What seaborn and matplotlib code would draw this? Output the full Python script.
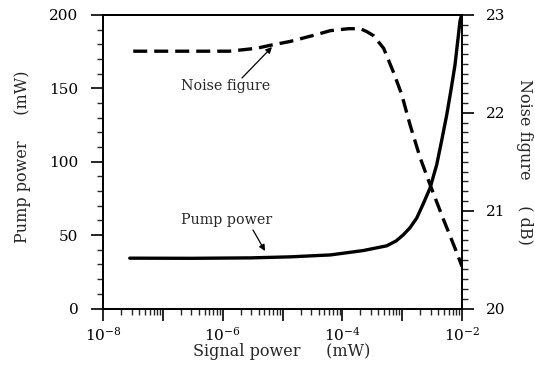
import numpy as np
import pandas as pd
import matplotlib
matplotlib.use("Agg")
import matplotlib.pyplot as plt
import matplotlib.ticker as mticker
import seaborn as sns

# ---- data ----
pump_signal_mw = [2.8e-8, 3e-7, 3e-6, 1.35e-5, 6.3e-5, 2.24e-4, 5.5e-4, 7.9e-4,
                  1.045e-3, 1.35e-3, 1.75e-3, 2.23e-3, 2.92e-3, 3.78e-3, 4.55e-3,
                  5.56e-3, 6.55e-3, 7.64e-3, 9.27e-3, 1.0e-2]
pump_power_mw = [34.3, 34.2, 34.5, 35.2, 36.5, 39.5, 42.7, 46.0,
                 50.2, 55.0, 61.6, 71.0, 82.0, 98.0, 114.0,
                 132.0, 149.0, 166.0, 196.0, 201.0]

nf_signal_mw = [3.2e-8, 3.2e-7, 1.3e-6, 3.7e-6, 6.2e-6, 1.35e-5, 3.7e-5, 6.3e-5,
                1.26e-4, 2.0e-4, 2.57e-4, 3.3e-4, 4.9e-4, 7.1e-4, 9.8e-4,
                1.35e-3, 2.0e-3, 2.95e-3, 4.9e-3, 7.6e-3, 1.0e-2]
noise_figure_db = [22.63, 22.63, 22.63, 22.66, 22.69, 22.73, 22.80, 22.84,
                   22.86, 22.86, 22.83, 22.79, 22.66, 22.42, 22.19,
                   21.88, 21.54, 21.26, 20.91, 20.62, 20.43]

x_tick_labels = ["$10^{-8}$", "$10^{-6}$", "$10^{-4}$", "$10^{-2}$"]
left_ticks = [0, 50, 100, 150, 200]
right_ticks = [20, 21, 22, 23]

sns.set_style("ticks")
plt.rcParams["font.family"] = ["DejaVu Serif"]
plt.rcParams["mathtext.fontset"] = "dejavuserif"

W, H = 535, 365
fig = plt.figure(figsize=(W / 100, H / 100), dpi=100)
L, R, T, B = 103, 462, 15, 308.5
ax = fig.add_axes([L / W, 1 - B / H, (R - L) / W, (B - T) / H])
ax2 = ax.twinx()

pump_df = pd.DataFrame({"signal": pump_signal_mw, "pump": pump_power_mw})
nf_df = pd.DataFrame({"signal": nf_signal_mw, "nf": noise_figure_db})

sns.lineplot(data=pump_df, x="signal", y="pump", ax=ax, color="black",
             linewidth=2.4, estimator=None, sort=True)
sns.lineplot(data=nf_df, x="signal", y="nf", ax=ax2, color="black",
             linewidth=2.4, estimator=None, sort=True)
ax2.lines[0].set_dashes((4.2, 2.1))

for a in (ax, ax2):
    a.set_xscale("log")
    a.set_xlim(1e-8, 1e-2)
    for s in a.spines.values():
        s.set_linewidth(1.3)
        s.set_color("black")
        s.set_visible(True)

ax.set_ylim(0, 200)
ax2.set_ylim(20, 23)

ax.xaxis.set_major_locator(mticker.LogLocator(base=10, numticks=20))
ax.xaxis.set_minor_locator(mticker.LogLocator(base=10, subs=np.arange(2, 10), numticks=20))
ax.xaxis.set_minor_formatter(mticker.NullFormatter())
lab_map = {-8: x_tick_labels[0], -6: x_tick_labels[1], -4: x_tick_labels[2], -2: x_tick_labels[3]}
ax.xaxis.set_major_formatter(mticker.FuncFormatter(
    lambda v, p: lab_map.get(int(round(np.log10(v))), "")))

ax.set_yticks(left_ticks)
ax.yaxis.set_minor_locator(mticker.MultipleLocator(10))
ax2.set_yticks(right_ticks)
ax2.yaxis.set_minor_locator(mticker.MultipleLocator(0.1))

for a in (ax, ax2):
    a.tick_params(which="major", length=8.6, width=1.2, direction="out",
                  labelsize=11, colors="black")
    a.tick_params(which="minor", length=4.5, width=1.0, direction="out")
ax.tick_params(axis="y", which="major", pad=9)
ax2.tick_params(axis="y", which="major", pad=8.5)
ax.tick_params(axis="x", which="major", pad=4)
ax2.tick_params(axis="x", which="both", bottom=False, top=False, labelbottom=False)

ax.set_xlabel("Signal power     (mW)", fontsize=11.5)
ax.xaxis.set_label_coords((282 - L) / (R - L), -(352 - B) / (B - T))
ax.set_ylabel("Pump power     (mW)", fontsize=11.5)
ax.yaxis.set_label_coords((23 - L) / (R - L), (B - 157) / (B - T))
ax2.set_ylabel("Noise figure     ( dB)", fontsize=11.5, rotation=270)
ax2.yaxis.set_label_coords((525 - L) / (R - L), (B - 162) / (B - T))
ax.xaxis.label.set_va("center")
ax.yaxis.label.set_va("center")
ax2.yaxis.label.set_va("center")


def px_to_x(px):
    return 10 ** (-8 + (px - L) / ((R - L) / 6))


# annotations (text + arrow)
fig.text(226 / W, 1 - 86 / H, "Noise figure", ha="center", va="center", fontsize=10.3)
ax2.annotate("", xy=(px_to_x(272), 20 + (B - 47) / ((B - T) / 3)),
             xytext=(242 / W, 1 - 78 / H), textcoords="figure fraction",
             arrowprops=dict(arrowstyle="-|>", color="black", lw=0.9,
                             mutation_scale=9, shrinkA=0, shrinkB=0))
fig.text(227 / W, 1 - 220 / H, "Pump power", ha="center", va="center", fontsize=10.3)
ax.annotate("", xy=(px_to_x(265), (B - 251) / ((B - T) / 200)),
            xytext=(253 / W, 1 - 230 / H), textcoords="figure fraction",
            arrowprops=dict(arrowstyle="-|>", color="black", lw=0.9,
                            mutation_scale=9, shrinkA=0, shrinkB=0))

fig.savefig("out.png", dpi=100)
